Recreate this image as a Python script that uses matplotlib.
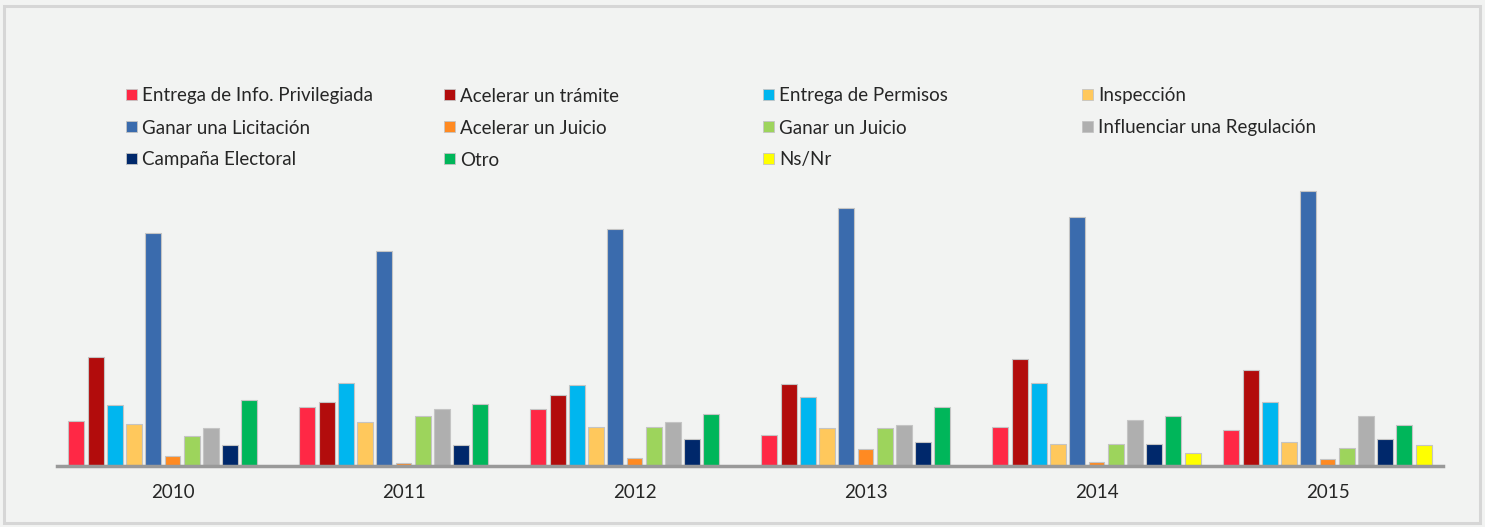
import matplotlib
matplotlib.use("Agg")
import matplotlib.pyplot as plt
import numpy as np
from matplotlib.patches import Rectangle

years = ["2010", "2011", "2012", "2013", "2014", "2015"]
series = ["Entrega de Info. Privilegiada", "Acelerar un trámite", "Entrega de Permisos",
          "Inspección", "Ganar una Licitación", "Acelerar un Juicio", "Ganar un Juicio",
          "Influenciar una Regulación", "Campaña Electoral", "Otro", "Ns/Nr"]
colors = ["#ff2845", "#b20c0c", "#00b6ef", "#ffc85c", "#3a6bad", "#ff8a22",
          "#9dd45c", "#afafaf", "#00286b", "#00b65a", "#ffff00"]

info_priv   = [45, 58.7, 56.7, 30.7, 39.3, 36]
acel_tram   = [109, 63.7, 71.3, 82, 107, 96]
permisos    = [61, 83, 81, 68.7, 83, 64]
inspeccion  = [42, 44, 39.3, 37.7, 21.7, 24]
licitacion  = [233, 215, 237, 257.7, 248.7, 275]
acel_juicio = [10, 2.7, 7.7, 17, 4.3, 7]
ganar_juic  = [30, 49.7, 39.3, 37.7, 21.7, 18]
regulacion  = [38, 56.7, 44, 41, 45.7, 50]
campana     = [21, 20.7, 26.7, 23.7, 21.7, 27]
otro        = [66, 61.7, 52, 58.7, 50, 41]
nsnr        = [0, 0, 0, 0, 13, 21]

values = [info_priv, acel_tram, permisos, inspeccion, licitacion, acel_juicio,
          ganar_juic, regulacion, campana, otro, nsnr]

W, H = 1485, 527
fig = plt.figure(figsize=(W / 100, H / 100), dpi=100)
fig.patch.set_facecolor("#f2f3f2")
fig.add_artist(Rectangle((4 / W, 4 / H), (W - 9) / W, (H - 10) / H, transform=fig.transFigure,
                         fill=False, edgecolor="#d6d6d6", linewidth=2.2))

bottom_px = 466
top_px = 180
ax = fig.add_axes([57 / W, (H - bottom_px) / H, (1443 - 57) / W, (bottom_px - top_px) / H])
ax.set_facecolor("none")

x = np.arange(len(years))
slot = 0.0832
bw = 0.069
for i, (name, vals, c) in enumerate(zip(series, values, colors)):
    off = (i - 5) * slot
    ax.bar(x + off, vals, width=bw, color=c, edgecolor="#c4c4c4", linewidth=0.8,
           label=name, zorder=2)

ax.set_xlim(-0.5, 5.5)
ax.set_ylim(0, bottom_px - top_px)
ax.set_xticks(x)
ax.set_xticklabels(years, fontsize=13.5, color="#262626", fontfamily="Lato")
ax.tick_params(axis="x", length=0, pad=13)
ax.set_yticks([])
for s in ["top", "right", "left"]:
    ax.spines[s].set_visible(False)
ax.spines["bottom"].set_color("#999999")
ax.spines["bottom"].set_linewidth(2.5)
ax.spines["bottom"].set_zorder(3)

# legend laid out in a 4-column grid, row-major like the reference
col_x = [126, 444, 763, 1082]
row_y = [94, 126, 158]
sq = 11
for i, (name, c) in enumerate(zip(series, colors)):
    r, k = divmod(i, 4)
    mx, my = col_x[k], row_y[r]
    fig.add_artist(Rectangle((mx / W, (H - my - sq / 2) / H), sq / W, sq / H,
                             transform=fig.transFigure, facecolor=c,
                             edgecolor="#c4c4c4", linewidth=0.6))
    fig.text((mx + sq + 5) / W, (H - my - 7.5) / H, name, fontsize=13.5, family="Lato",
             color="#262626", va="baseline", ha="left")

fig.savefig("out.png", dpi=100, facecolor=fig.get_facecolor())
